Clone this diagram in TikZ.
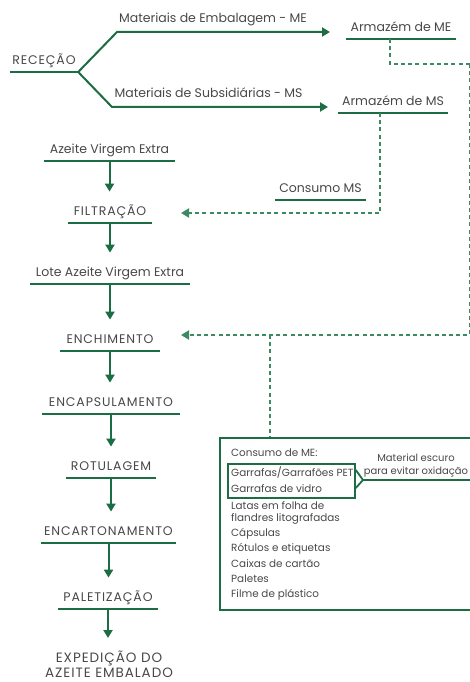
\documentclass[tikz,border=0pt]{standalone}
\usepackage{fontspec}
\setmainfont{Poppins}
\usetikzlibrary{arrows.meta}
\definecolor{gline}{RGB}{28,108,68}
\definecolor{gdash}{RGB}{60,138,98}
\definecolor{txt}{RGB}{72,72,72}
\newcommand{\capsfont}{\fontsize{12.5}{15}\selectfont\addfontfeatures{LetterSpace=7}}
\newcommand{\mixfont}{\fontsize{12.5}{15}\selectfont}
\begin{document}
\begin{tikzpicture}[x=1pt,y=-1pt,
  uline/.style={draw=gline, line width=2pt},
  ul/.style={anchor=south, inner xsep=0pt, inner ysep=5pt, text height=9pt, text depth=2pt,
    text=txt, font=\mixfont,
    append after command={(\tikzlastnode.south west) edge[uline] (\tikzlastnode.south east)}},
  ulc/.style={ul, font=\capsfont},
  lab/.style={anchor=base, inner sep=0pt, text=txt, font=\mixfont},
  small/.style={anchor=base west, inner sep=0pt, text=txt, font=\fontsize{10.4}{12}\selectfont},
  flow/.style={draw=gline, line width=2pt, -{Triangle[width=9pt,length=8pt]}},
  dline/.style={draw=gdash, line width=2pt, dash pattern=on 4pt off 3.2pt},
  darrow/.style={dline, -{Triangle[width=9pt,length=8pt]}},
  boxline/.style={draw=gline, line width=1.8pt}
]
\useasboundingbox (0,0) rectangle (470,682);
\clip (0,0) rectangle (470,682);

% top branch
\node[ulc, minimum width=68pt] (rec) at (44,72) {RECEÇÃO};
\node[lab] (lme) at (213,23) {Materiais de Embalagem - ME};
\node[lab] (lms) at (208.5,98) {Materiais de Subsidiárias - MS};
\node[ul, minimum width=110pt] (arme) at (401,39) {Armazém de ME};
\node[ul, minimum width=110pt] (arms) at (393,113) {Armazém de MS};
\node[ul, minimum width=91pt] (cms) at (320.5,200) {Consumo MS};
\coordinate (meEnd) at (330,32);
\coordinate (msEnd) at (328,107);
\draw[flow, line join=round] (rec.south east) -- (117,32) -- (meEnd);
\draw[flow, line join=round] (rec.south east) -- (112,107) -- (msEnd);

% main flow
\node[ul, minimum width=131pt] (ave) at (109.5,161) {Azeite Virgem Extra};
\node[ulc, minimum width=84pt] (fil) at (110,223) {FILTRAÇÃO};
\node[ul, minimum width=160pt] (lote) at (110,284) {Lote Azeite Virgem Extra};
\node[ulc, minimum width=100pt] (ench) at (110,351) {ENCHIMENTO};
\node[ulc, minimum width=138pt] (encap) at (111,414) {ENCAPSULAMENTO};
\node[ulc, minimum width=90pt] (rot) at (111,478) {ROTULAGEM};
\node[ulc, minimum width=135pt] (encart) at (108.5,543) {ENCARTONAMENTO};
\node[ulc, minimum width=100pt] (pal) at (108,609) {PALETIZAÇÃO};
\node[anchor=north, align=center, inner sep=0pt, text=txt, font=\fontsize{13.5}{15}\selectfont\addfontfeatures{LetterSpace=7}] (exp) at (109,651) {EXPEDIÇÃO DO\\AZEITE EMBALADO};

\foreach \a/\b in {ave/fil, fil/lote, lote/ench, ench/encap, encap/rot, rot/encart, encart/pal}
  \draw[flow, shorten >=10pt] (\a.south) -- (\a.south |- \b.north);
\draw[flow, shorten >=13pt] (pal.south) -- (pal.south |- exp.north);

% dashed links
\coordinate (filIn) at (181,213);
\coordinate (enchIn) at (181,335);
\coordinate (rc) at (470,64);
\coordinate (jn) at (270,335);
\draw[darrow] ([xshift=-13pt]arms.south) |- (filIn);
\draw[dline] ([xshift=-11pt]arme.south) |- (rc);
\draw[darrow] (rc) |- (enchIn);

% consumo de ME box
\node[boxline, anchor=north west, minimum width=270pt, minimum height=172pt, inner sep=0pt] (box) at (219,437) {};
\draw[dline] (jn) -- (jn |- box.north);
\node[small] (cme) at (231,456) {Consumo de ME:};
\node[boxline, anchor=north west, minimum width=127pt, minimum height=34pt, inner sep=0pt] (ibox) at (227,463) {};
\node[small] (t1) at (231,476.5) {Garrafas/Garrafões PET};
\node[small] (t2) at (231,492.5) {Garrafas de vidro};
\node[small] (t3) at (231,509) {Latas em folha de};
\node[small] (t4) at (231,521.5) {flandres litografadas};
\node[small] (t5) at (231,536) {Cápsulas};
\node[small] (t6) at (231,551) {Rótulos e etiquetas};
\node[small] (t7) at (231,567) {Caixas de cartão};
\node[small] (t8) at (231,582) {Paletes};
\node[small] (t9) at (231,597) {Filme de plástico};
\coordinate (chev) at (363,480);
\draw[boxline, line join=miter] (ibox.east |- 0,470) -- (chev) -- (ibox.east |- 0,488);
\draw[boxline] (chev) -- (480,480);
\node[anchor=south, align=center, inner sep=0pt, text=txt, font=\fontsize{10}{13}\selectfont] (mat) at (416,477) {Material escuro\\para evitar oxidação};
\end{tikzpicture}
\end{document}
